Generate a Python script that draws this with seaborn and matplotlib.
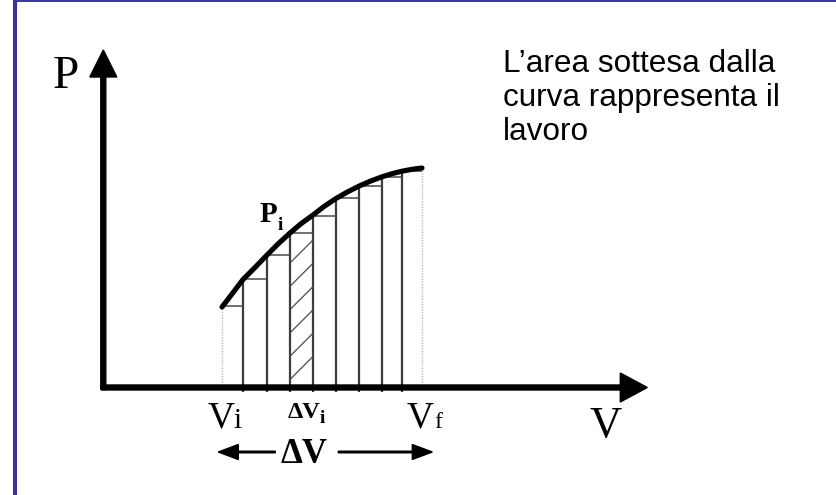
import numpy as np
import matplotlib
matplotlib.use("Agg")
import matplotlib.pyplot as plt
from matplotlib.lines import Line2D
import seaborn as sns

# Volume at the strip edges (from V_i to V_f) and the strip heights there
volume_edges = [11.87, 13.97, 16.37, 18.67, 20.97, 23.27, 25.57, 27.87, 29.87, 31.87]
pressure_edges = [8.15, 10.9, 13.25, 15.5, 17.2, 18.95, 20.15, 21.1, 21.7, 21.95]
highlight_strip = 3  # the strip labelled ΔV_i

# points along the P(V) curve
curve_volume = [11.87, 12.87, 13.97, 15.17, 16.37, 17.47, 18.67, 19.77, 20.97,
                22.07, 23.27, 24.37, 25.57, 26.67, 27.87, 28.87, 29.87, 30.87,
                31.87]
curve_pressure = [8.05, 9.35, 10.8, 12.0, 13.25, 14.35, 15.45, 16.38, 17.25,
                  18.1, 18.9, 19.53, 20.14, 20.62, 21.07, 21.38, 21.63, 21.82,
                  21.95]

description = ["L\u2019area sottesa dalla", "curva rappresenta il", "lavoro"]

sns.set_theme(style="white")
plt.rcParams["font.family"] = ["Liberation Sans", "DejaVu Sans"]
plt.rcParams["text.color"] = "black"
serif = ["Liberation Serif", "DejaVu Serif"]

fig = plt.figure(figsize=(8.36, 4.95), dpi=100)
ax = fig.add_axes([0, 0, 1, 1])
ax.set_xlim(-10.33, 73.27)
ax.set_ylim(-10.75, 38.75)
ax.axis("off")

V = np.array(volume_edges)
P = np.array(pressure_edges)

# outer edges V_i and V_f: faint dotted verticals
ax.vlines([V[0], V[-1]], 0, [P[0], P[-1]], colors="#b8b8b8", lw=1.0,
          linestyles=(0, (1, 1)), zorder=2)
# inner strip boundaries
ax.vlines(V[1:-1], -0.45, P[1:-1], colors="#3c3c3c", lw=1.6, zorder=3)
# strip tops at the left-edge pressure
ax.hlines(P[:-1], V[:-1], V[1:], colors="#4a4a4a", lw=1.1, zorder=3)

# diagonal hatching of the highlighted strip
x0, x1 = V[highlight_strip], V[highlight_strip + 1]
top = P[highlight_strip]
w = x1 - x0
for y0 in np.arange(0.8, top, 2.33):
    if y0 + w <= top:
        ax.plot([x0, x1], [y0, y0 + w], color="#4a4a4a", lw=0.9, zorder=3)

# the pressure curve
sns.lineplot(x=curve_volume, y=curve_pressure, ax=ax, color="black", lw=3.7,
             sort=False, zorder=5, solid_capstyle="round",
             solid_joinstyle="round")

# coordinate axes with arrow heads
ax.arrow(-0.2, 0, 54.6, 0, width=0.5, head_width=2.9, head_length=2.7,
         length_includes_head=True, color="black", zorder=4)
ax.arrow(0, -0.2, 0, 33.95, width=0.5, head_width=2.7, head_length=2.7,
         length_includes_head=True, color="black", zorder=4)

ax.text(-5.1, 30.0, "P", fontsize=34, family=serif, ha="left", va="baseline")
ax.text(48.6, -5.0, "V", fontsize=32, family=serif, ha="left", va="baseline")

# V_i, ΔV_i, V_f under the horizontal axis
ax.text(10.4, -4.05, "V", fontsize=27, family=serif, ha="left", va="baseline")
ax.text(13.0, -4.05, "i", fontsize=21, family=serif, ha="left", va="baseline")
ax.text(30.35, -4.05, "V", fontsize=27, family=serif, ha="left", va="baseline")
ax.text(33.05, -4.05, "f", fontsize=17, family=serif, ha="left", va="baseline")
ax.text(18.4, -3.05, "\u0394V", fontsize=17.5, family=serif, weight="bold",
        ha="left", va="baseline")
ax.text(21.6, -3.55, "i", fontsize=14, family=serif, weight="bold",
        ha="left", va="baseline")

# P_i on the curve
ax.text(15.6, 16.55, "P", fontsize=21, family=serif, weight="bold",
        ha="left", va="baseline")
ax.text(17.45, 15.75, "i", fontsize=14, family=serif, weight="bold",
        ha="left", va="baseline")

# ΔV span with arrows on both sides
ax.text(17.7, -7.55, "\u0394V", fontsize=25, family=serif, weight="bold",
        ha="left", va="baseline")
ax.arrow(17.2, -6.45, 11.5 - 17.2, 0, width=0.16, head_width=1.5,
         head_length=2.0, length_includes_head=True, color="black")
ax.arrow(23.5, -6.45, 32.9 - 23.5, 0, width=0.16, head_width=1.5,
         head_length=2.0, length_includes_head=True, color="black")

for k, line in enumerate(description):
    ax.text(40.0, 31.6 - 3.45 * k, line, fontsize=22.7, color="black",
            ha="left", va="baseline")

# blue frame on the left and top edges
fx = 15.3 / 836
fig.add_artist(Line2D([fx, fx], [0, 1], transform=fig.transFigure,
                      color="#34349c", lw=2.9))
fig.add_artist(Line2D([fx, 1], [1 - 0.7 / 495, 1 - 0.7 / 495],
                      transform=fig.transFigure, color="#34349c", lw=1.4))

fig.savefig("out.png", dpi=100)
